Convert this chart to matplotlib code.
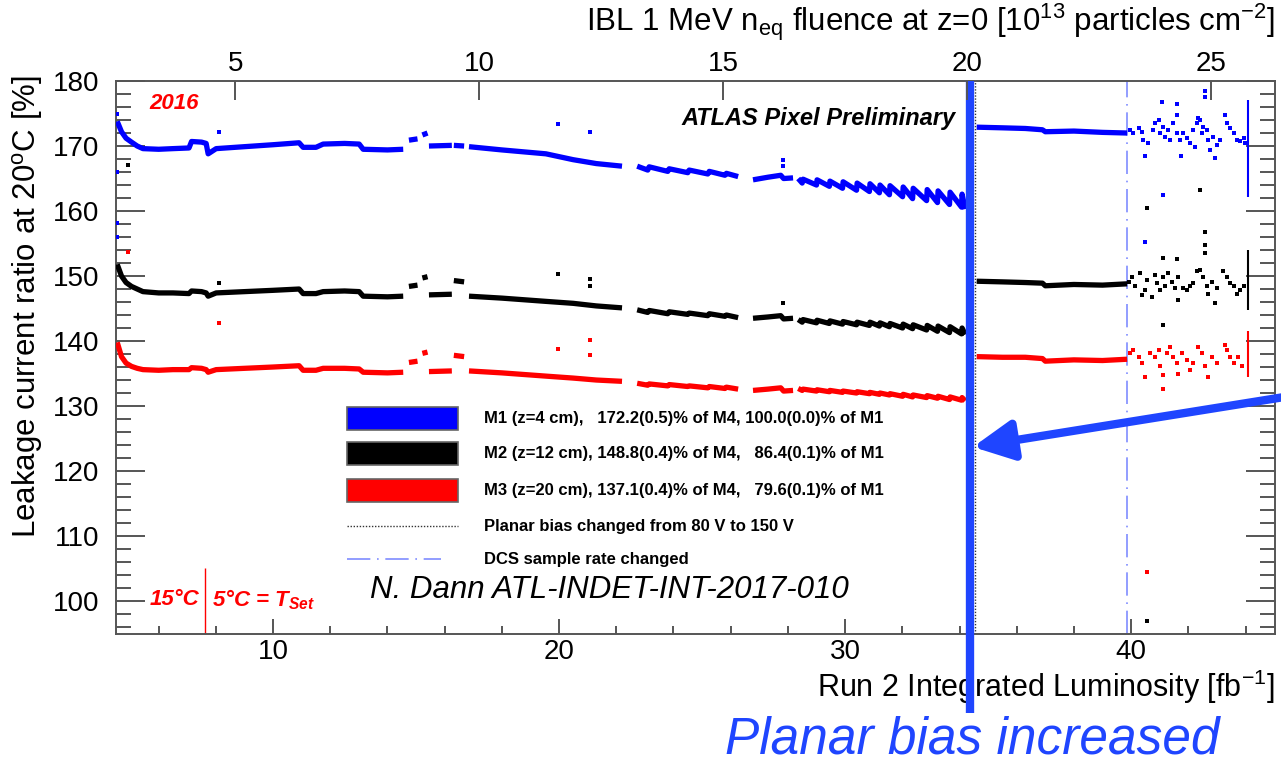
import numpy as np
import matplotlib
matplotlib.use("Agg")
import matplotlib.pyplot as plt
from matplotlib.patches import Rectangle
from matplotlib.lines import Line2D
from matplotlib.ticker import MultipleLocator
from matplotlib.transforms import blended_transform_factory

plt.rcParams['font.family'] = ['Liberation Sans', 'DejaVu Sans']
plt.rcParams['mathtext.fontset'] = 'custom'
plt.rcParams['mathtext.rm'] = 'Liberation Sans'
plt.rcParams['mathtext.it'] = 'Liberation Sans:italic:bold'
plt.rcParams['mathtext.bf'] = 'Liberation Sans:bold'

nan = np.nan

# integrated luminosity [fb-1] of the run-averaged points (nan = gap between fills)
lumi = [4.55, 4.70, 4.86, 5.05, 5.25, 5.45, 6.0, 6.5, 7.06, 7.15, 7.5, 7.66, 7.73, 8.01, 9.0, 10.0,
        10.91, 11.05, 11.5, 11.75, 12.5, 13.01, 13.15, 14.0, 14.55, nan,
        14.75, 15.05, nan, 15.22, 15.40, nan,
        15.45, 16.25, nan,
        16.32, 16.68, nan,
        16.85, 18.0, 19.54, 20.49, 21.3, 22.2, nan,
        22.73, 23.10, 23.15, 23.80, 23.85, 24.50, 24.55, 25.20, 25.25, 25.80, 25.85, 26.26, nan,
        26.78, 27.3, 27.75, 27.85, 28.18, nan,
        28.36, 28.50, 28.53, 29.00, 29.02, 29.45, 29.47, 29.91, 29.93, 30.40, 30.42, 30.85, 30.87, 31.20,
        31.22, 31.55, 31.57, 32.01, 32.03, 32.36, 32.38, 32.85, 32.87, 33.23, 33.25, 33.65, 33.67, 34.07,
        34.09, 34.20, nan,
        34.6, 35.5, 36.3, 36.9, 37.0, 38.0, 39.0, 39.86]

m1 = [173.8, 172.2, 171.2, 170.6, 170.0, 169.6, 169.5, 169.6, 169.7, 170.7, 170.6, 170.4, 168.8, 169.6, 169.9, 170.2,
      170.5, 169.8, 169.8, 170.3, 170.4, 170.3, 169.5, 169.4, 169.5, nan,
      170.9, 171.1, nan, 171.7, 172.0, nan,
      170.0, 170.1, nan,
      170.1, 170.0, nan,
      169.9, 169.4, 168.8, 167.9, 167.3, 166.9, nan,
      166.9, 166.3, 166.8, 166.1, 166.5, 165.9, 166.3, 165.7, 166.1, 165.5, 165.8, 165.3, nan,
      164.8, 165.2, 165.5, 165.0, 165.1, nan,
      165.0, 164.3, 164.9, 164.0, 164.8, 163.8, 164.6, 163.5, 164.5, 163.2, 164.3, 163.0, 164.2, 162.8,
      164.0, 162.5, 163.9, 162.2, 163.7, 161.9, 163.5, 161.6, 163.3, 161.3, 163.1, 161.0, 162.9, 160.6,
      162.6, 160.3, nan,
      172.9, 172.8, 172.7, 172.5, 172.2, 172.3, 172.1, 172.0]

m2 = [151.8, 150.0, 149.0, 148.4, 148.0, 147.6, 147.4, 147.4, 147.3, 147.7, 147.6, 147.4, 146.9, 147.4, 147.6, 147.8,
      148.0, 147.3, 147.3, 147.6, 147.7, 147.6, 146.9, 146.8, 146.9, nan,
      148.4, 148.6, nan, 149.7, 149.9, nan,
      147.1, 147.2, nan,
      149.3, 149.1, nan,
      146.9, 146.6, 146.1, 145.8, 145.4, 145.1, nan,
      144.8, 144.4, 144.7, 144.2, 144.5, 144.1, 144.3, 143.9, 144.2, 143.8, 144.0, 143.6, nan,
      143.5, 143.7, 143.9, 143.4, 143.5, nan,
      143.3, 142.9, 143.3, 142.8, 143.2, 142.7, 143.1, 142.6, 143.0, 142.5, 142.9, 142.4, 142.9, 142.3,
      142.8, 142.2, 142.7, 142.0, 142.6, 141.9, 142.5, 141.7, 142.4, 141.5, 142.3, 141.3, 142.2, 141.1,
      142.0, 141.0, nan,
      149.2, 149.1, 149.0, 148.9, 148.5, 148.7, 148.6, 148.8]

m3 = [139.8, 137.6, 136.6, 136.1, 135.8, 135.6, 135.5, 135.6, 135.6, 135.9, 135.8, 135.6, 135.2, 135.6, 135.8, 136.0,
      136.2, 135.5, 135.5, 135.8, 135.8, 135.7, 135.2, 135.1, 135.2, nan,
      136.7, 136.9, nan, 138.1, 138.3, nan,
      135.3, 135.4, nan,
      137.8, 137.6, nan,
      135.4, 135.1, 134.6, 134.3, 134.0, 133.8, nan,
      133.5, 133.2, 133.4, 133.1, 133.3, 133.0, 133.1, 132.8, 133.0, 132.7, 132.9, 132.6, nan,
      132.4, 132.6, 132.8, 132.3, 132.4, nan,
      132.7, 132.4, 132.6, 132.3, 132.5, 132.2, 132.4, 132.1, 132.3, 132.0, 132.2, 131.9, 132.1, 131.8,
      132.0, 131.7, 131.9, 131.5, 131.8, 131.4, 131.7, 131.3, 131.6, 131.2, 131.5, 131.0, 131.4, 130.9,
      131.3, 130.8, nan,
      137.6, 137.5, 137.5, 137.3, 136.9, 137.1, 137.0, 137.2]

# single points after the DCS sample rate change, plus isolated outliers
m1_sc_lumi = [39.96, 40.08, 40.26, 40.37, 40.43, 40.49, 40.60, 40.78, 40.84, 40.96, 41.01, 41.13, 41.19, 41.30,
              41.36, 41.48, 41.60, 41.60, 41.71, 41.74, 41.83, 41.95, 42.06, 42.18, 42.24, 42.29, 42.35, 42.41,
              42.47, 42.53, 42.64, 42.70, 42.76, 42.88, 42.94, 42.99, 43.11, 43.29, 43.34, 43.46, 43.58, 43.69,
              43.81, 43.93, 43.99,
              41.07, 41.60, 41.11, 40.49, 42.59, 42.59, 4.55, 4.55, 4.55, 4.55, 8.11, 19.96, 21.08, 27.83, 27.83]
m1_sc_val = [172.5, 172.0, 172.7, 172.2, 170.9, 168.4, 170.4, 172.5, 173.5, 174.0, 172.0, 173.0, 171.4, 172.5,
             170.9, 173.5, 174.8, 172.0, 170.9, 168.4, 172.0, 171.2, 170.4, 172.5, 169.9, 173.5, 174.3, 174.0,
             172.0, 173.0, 172.5, 170.9, 169.4, 171.4, 168.1, 170.2, 170.9, 174.8, 173.5, 172.7, 172.0, 170.9,
             170.7, 171.2, 170.4,
             176.8, 176.5, 162.5, 155.3, 178.4, 177.6, 175.0, 166.0, 158.2, 156.0, 172.2, 173.4, 172.2, 167.8, 166.9]

m2_sc_lumi = [39.91, 40.02, 40.14, 40.31, 40.37, 40.49, 40.55, 40.72, 40.84, 40.90, 41.01, 41.13, 41.19, 41.30,
              41.42, 41.54, 41.65, 41.65, 41.83, 41.95, 42.06, 42.18, 42.29, 42.41, 42.53, 42.64, 42.70, 42.82,
              42.94, 42.99, 43.23, 43.34, 43.46, 43.58, 43.69, 43.81, 43.93,
              42.41, 40.55, 42.59, 42.59, 42.59, 41.11, 41.60, 41.11, 40.56, 4.93, 8.11, 19.96, 21.08, 21.08,
              27.83]
m2_sc_val = [149.1, 149.9, 148.4, 150.4, 147.1, 147.9, 149.4, 146.8, 150.2, 148.9, 147.9, 149.9, 148.4, 150.4,
             149.1, 148.1, 149.9, 146.3, 148.1, 147.9, 148.4, 148.9, 150.7, 150.9, 149.9, 148.4, 147.3, 149.1,
             145.8, 148.1, 150.7, 149.9, 148.9, 148.4, 147.3, 147.9, 148.4,
             163.2, 160.4, 156.8, 154.8, 153.5, 152.7, 152.6, 142.5, 96.9, 167.1, 148.9, 150.3, 149.5, 148.5,
             145.8]

m3_sc_lumi = [39.96, 40.08, 40.26, 40.37, 40.49, 40.66, 40.84, 40.96, 41.01, 41.13, 41.25, 41.36, 41.48, 41.60,
              41.65, 41.77, 41.95, 42.06, 42.18, 42.35, 42.47, 42.59, 42.70, 42.82, 42.99, 43.29, 43.34, 43.46,
              43.58, 43.75, 43.87,
              40.56, 41.12, 4.93, 8.11, 19.96, 21.08, 21.08]
m3_sc_val = [138.1, 138.6, 137.6, 136.6, 134.5, 138.1, 137.6, 138.6, 136.1, 134.8, 138.1, 139.1, 137.6, 136.6,
             135.0, 138.1, 137.1, 135.5, 136.6, 139.1, 138.1, 136.1, 134.5, 137.6, 136.6, 139.4, 138.6, 137.6,
             136.6, 137.6, 136.1,
             104.5, 132.6, 153.7, 142.8, 138.8, 140.2, 137.9]

# last run: many readings stacked at one luminosity value
end_lumi = 44.07
m1_end = [162.2, 177.1]
m2_end = [144.8, 154.0]
m3_end = [134.5, 141.5]

planar_bias_lumi = 34.54
dcs_change_lumi = 39.86
tset_change_lumi = 7.62

legend_labels = ['M1 (z=4 cm),   172.2(0.5)% of M4, 100.0(0.0)% of M1',
                 'M2 (z=12 cm), 148.8(0.4)% of M4,   86.4(0.1)% of M1',
                 'M3 (z=20 cm), 137.1(0.4)% of M4,   79.6(0.1)% of M1',
                 'Planar bias changed from 80 V to 150 V',
                 'DCS sample rate changed']

colors = ['#0000ff', '#000000', '#ff0000']
frame_col = '#555555'
annot_blue = '#1f45ff'

fig = plt.figure(figsize=(12.81, 7.68), dpi=100)
ax = fig.add_axes([0.0906, 0.1751, 0.9047, 0.7194])

for vals, c in zip([m1, m2, m3], colors):
    ax.plot(lumi, vals, color=c, lw=3.8, solid_capstyle='butt', zorder=3)
for xs, ys, c in [(m1_sc_lumi, m1_sc_val, colors[0]), (m2_sc_lumi, m2_sc_val, colors[1]),
                  (m3_sc_lumi, m3_sc_val, colors[2])]:
    ax.plot(xs, ys, ls='none', marker='s', ms=2.2, mew=0, color=c, zorder=3)
for rng, c in zip([m1_end, m2_end, m3_end], colors):
    ax.vlines(end_lumi, rng[0], rng[1], color=c, lw=1.5, zorder=3)

ax.axvline(planar_bias_lumi, color='#333333', ls=(0, (1, 1.2)), lw=1.0, zorder=2)
ax.axvline(dcs_change_lumi, color='#7f8cff', ls=(0, (14, 4, 1, 4)), lw=1.2, zorder=2)
ax.vlines(tset_change_lumi, 95, 105.1, color='#ff0000', lw=1.0, zorder=2)

ax.set_xlim(4.51, 45.03)
ax.set_ylim(95, 180)
ax.xaxis.set_major_locator(MultipleLocator(10))
ax.xaxis.set_minor_locator(MultipleLocator(2))
ax.yaxis.set_major_locator(MultipleLocator(10))
ax.yaxis.set_minor_locator(MultipleLocator(2))
ax.tick_params(axis='both', which='both', direction='in', color=frame_col, labelsize=20, labelcolor='black')
ax.tick_params(axis='y', which='major', length=21, width=1.4, right=True, pad=12)
ax.tick_params(axis='y', which='minor', length=11, width=1.4, right=True)
ax.tick_params(axis='x', which='major', length=11, width=1.4, pad=4)
ax.tick_params(axis='x', which='minor', length=5.5, width=1.4)
for s in ax.spines.values():
    s.set_color(frame_col)
    s.set_linewidth(1.4)

# fluence scale on top
ax2 = ax.twiny()
ax2.set_xlim(2.56, 26.31)
ax2.xaxis.set_major_locator(MultipleLocator(5))
ax2.tick_params(axis='x', which='major', direction='in', length=14, width=1.4, color=frame_col,
                labelsize=20, pad=3)
ax2.tick_params(axis='x', which='minor', top=False, bottom=False)
for s in ax2.spines.values():
    s.set_visible(False)

ax.text(1.0, -0.097, r'Run 2 Integrated Luminosity [fb$^{-1}$]', transform=ax.transAxes,
        ha='right', va='center', fontsize=22)
ax.text(1.0, 1.107, r'IBL 1 MeV n$_{\rm eq}$ fluence at z=0 [10$^{13}$ particles cm$^{-2}$]',
        transform=ax.transAxes, ha='right', va='center', fontsize=22.5)
ax.text(-0.076, 1.011, r'Leakage current ratio at 20$^{\rm o}$C [%]', transform=ax.transAxes,
        rotation=90, ha='center', va='top', fontsize=22.5)

ax.text(0.029, 0.960, '2016', transform=ax.transAxes, color='#ff0000', fontsize=16,
        fontweight='bold', style='italic', va='center', ha='left')
ax.text(0.724, 0.933, 'ATLAS Pixel Preliminary', transform=ax.transAxes, fontsize=17,
        fontweight='bold', style='italic', va='center', ha='right')
ax.text(0.219, 0.079, 'N. Dann ATL-INDET-INT-2017-010', transform=ax.transAxes, fontsize=22.5,
        style='italic', va='center', ha='left')
ax.text(tset_change_lumi - 0.2, 100.2, '15°C', color='#ff0000', fontsize=16,
        fontweight='bold', style='italic', ha='right', va='center')
ax.text(tset_change_lumi + 0.25, 100.2, r'5°C = $\mathit{T_{Set}}$', color='#ff0000', fontsize=16,
        fontweight='bold', style='italic', ha='left', va='center')

# legend drawn by hand
row_y = [0.390, 0.325, 0.2597, 0.1946, 0.1348]
box_x, box_w, box_h, text_x = 0.1993, 0.0958, 0.0416, 0.3175
for i, lab in enumerate(legend_labels):
    y = row_y[i]
    if i < 3:
        ax.add_patch(Rectangle((box_x, y - box_h / 2), box_w, box_h, transform=ax.transAxes,
                               facecolor=colors[i], edgecolor='#666666', lw=1.2, zorder=5))
    elif i == 3:
        ax.add_line(Line2D([box_x, box_x + box_w], [y, y], transform=ax.transAxes, color='#333333',
                           ls=(0, (1, 1.2)), lw=1.0, zorder=5))
    else:
        ax.add_line(Line2D([box_x, box_x + box_w * 0.85], [y, y], transform=ax.transAxes,
                           color='#7f8cff', ls=(0, (14, 4, 1, 4)), lw=1.2, zorder=5))
    ax.text(text_x, y, lab, transform=ax.transAxes, fontsize=12, fontweight='bold',
            va='center', ha='left', zorder=5)

# highlight of the planar bias step
blend = blended_transform_factory(ax.transData, ax.transAxes)
ax.plot([34.37, 34.37], [1.0, -0.144], transform=blend, color=annot_blue, lw=6,
        solid_capstyle='butt', clip_on=False, zorder=6)
ax.annotate('', xy=(34.47, 123.7), xytext=(45.8, 131.7), xycoords='data', textcoords='data',
            arrowprops=dict(arrowstyle='-|>,head_length=1.0,head_width=0.5', lw=6, color=annot_blue,
                            shrinkA=0, shrinkB=0, mutation_scale=24),
            annotation_clip=False, zorder=6)
fig.text(0.759, 0.036, 'Planar bias increased', color=annot_blue, fontsize=37, style='italic',
         ha='center', va='center')

fig.savefig('out.png', dpi=100)
